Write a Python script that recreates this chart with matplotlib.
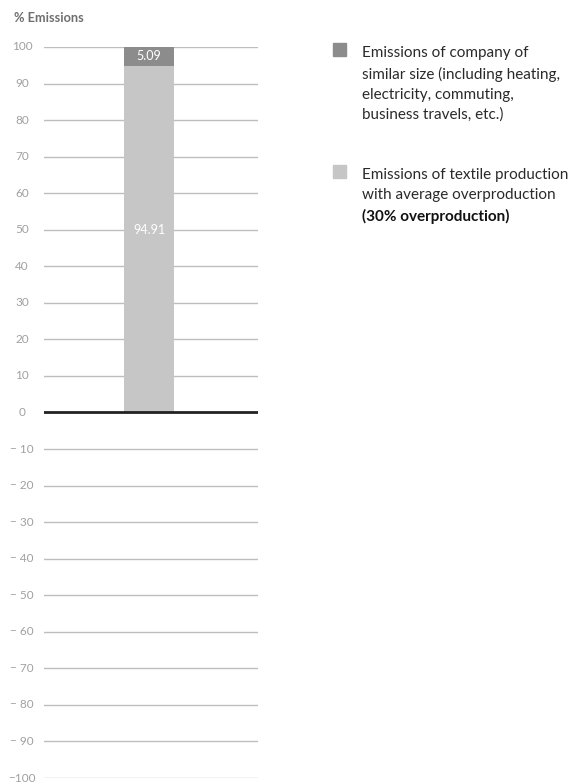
import matplotlib
matplotlib.use("Agg")
import matplotlib.pyplot as plt
from matplotlib.patches import Rectangle

plt.rcParams['font.family'] = ['Lato', 'DejaVu Sans']

categories = ["Total"]
textile_values = [94.91]
company_values = [5.09]
yticks = list(range(-100, 101, 10))
ytick_labels = [("\u2212 %d" % abs(v) if -100 < v < 0 else ("\u2212%d" % abs(v) if v < 0 else str(v))) for v in yticks]
legend_company = ["Emissions of company of", "similar size (including heating,",
                  "electricity, commuting,", "business travels, etc.)"]
legend_textile = ["Emissions of textile production", "with average overproduction"]
legend_bold = "(30% overproduction)"

c_company = "#8c8c8c"
c_textile = "#c6c6c6"

W, H = 568, 784
fig = plt.figure(figsize=(W/100, H/100), dpi=100)
ax = fig.add_axes([44/W, 1-778/H, 214/W, (778-47)/H])

x = [0]
bw = 50/214
ax.bar(x, textile_values, width=bw, color=c_textile, zorder=3)
ax.bar(x, company_values, bottom=textile_values, width=bw, color=c_company, zorder=3)

total = textile_values[0] + company_values[0]
ax.text(0, total/2, f"{textile_values[0]:.2f}", ha="center", va="center",
        color="white", fontsize=9, zorder=4)
ax.text(0, textile_values[0] + company_values[0]/2, f"{company_values[0]:.2f}", ha="center",
        va="center", color="white", fontsize=9, zorder=4)

for v in yticks:
    if v == 0:
        ax.axhline(0, color="#222222", lw=2, zorder=5)
    else:
        ax.axhline(v, color="#bdbdbd", lw=1, zorder=1)

ax.set_xlim(-105/214, 109/214)
ax.set_ylim(-100, 100)
ax.set_yticks([])
ax.set_xticks([])
for s in ax.spines.values():
    s.set_visible(False)

# y tick labels centred in the left margin
ytrans = ax.get_yaxis_transform()
for v, lab in zip(yticks, ytick_labels):
    ax.text(-22/214, v, lab, transform=ytrans, ha="center", va="center",
            fontsize=8.5, color="#a0a0a0")

fig.text(14/W, 1-18/H, "% Emissions", fontsize=9.2, fontweight="bold", color="#6e6e6e",
         ha="left", va="center")

# legend
fig.patches.append(Rectangle((333/W, 1-56/H), 13/W, 13/H, transform=fig.transFigure,
                             color=c_company, figure=fig))
for i, line in enumerate(legend_company):
    fig.text(362/W, 1-(52 + 20.5*i)/H, line, fontsize=11, color="#2a2a2a",
             ha="left", va="center_baseline")
fig.patches.append(Rectangle((333/W, 1-178/H), 13/W, 13/H, transform=fig.transFigure,
                             color=c_textile, figure=fig))
for i, line in enumerate(legend_textile):
    fig.text(362/W, 1-(173 + 20.5*i)/H, line, fontsize=11, color="#2a2a2a",
             ha="left", va="center_baseline")
fig.text(362/W, 1-215/H, legend_bold, fontsize=11, color="#111111", ha="left",
         va="center_baseline", fontweight="bold")

fig.savefig("out.png", dpi=100)
